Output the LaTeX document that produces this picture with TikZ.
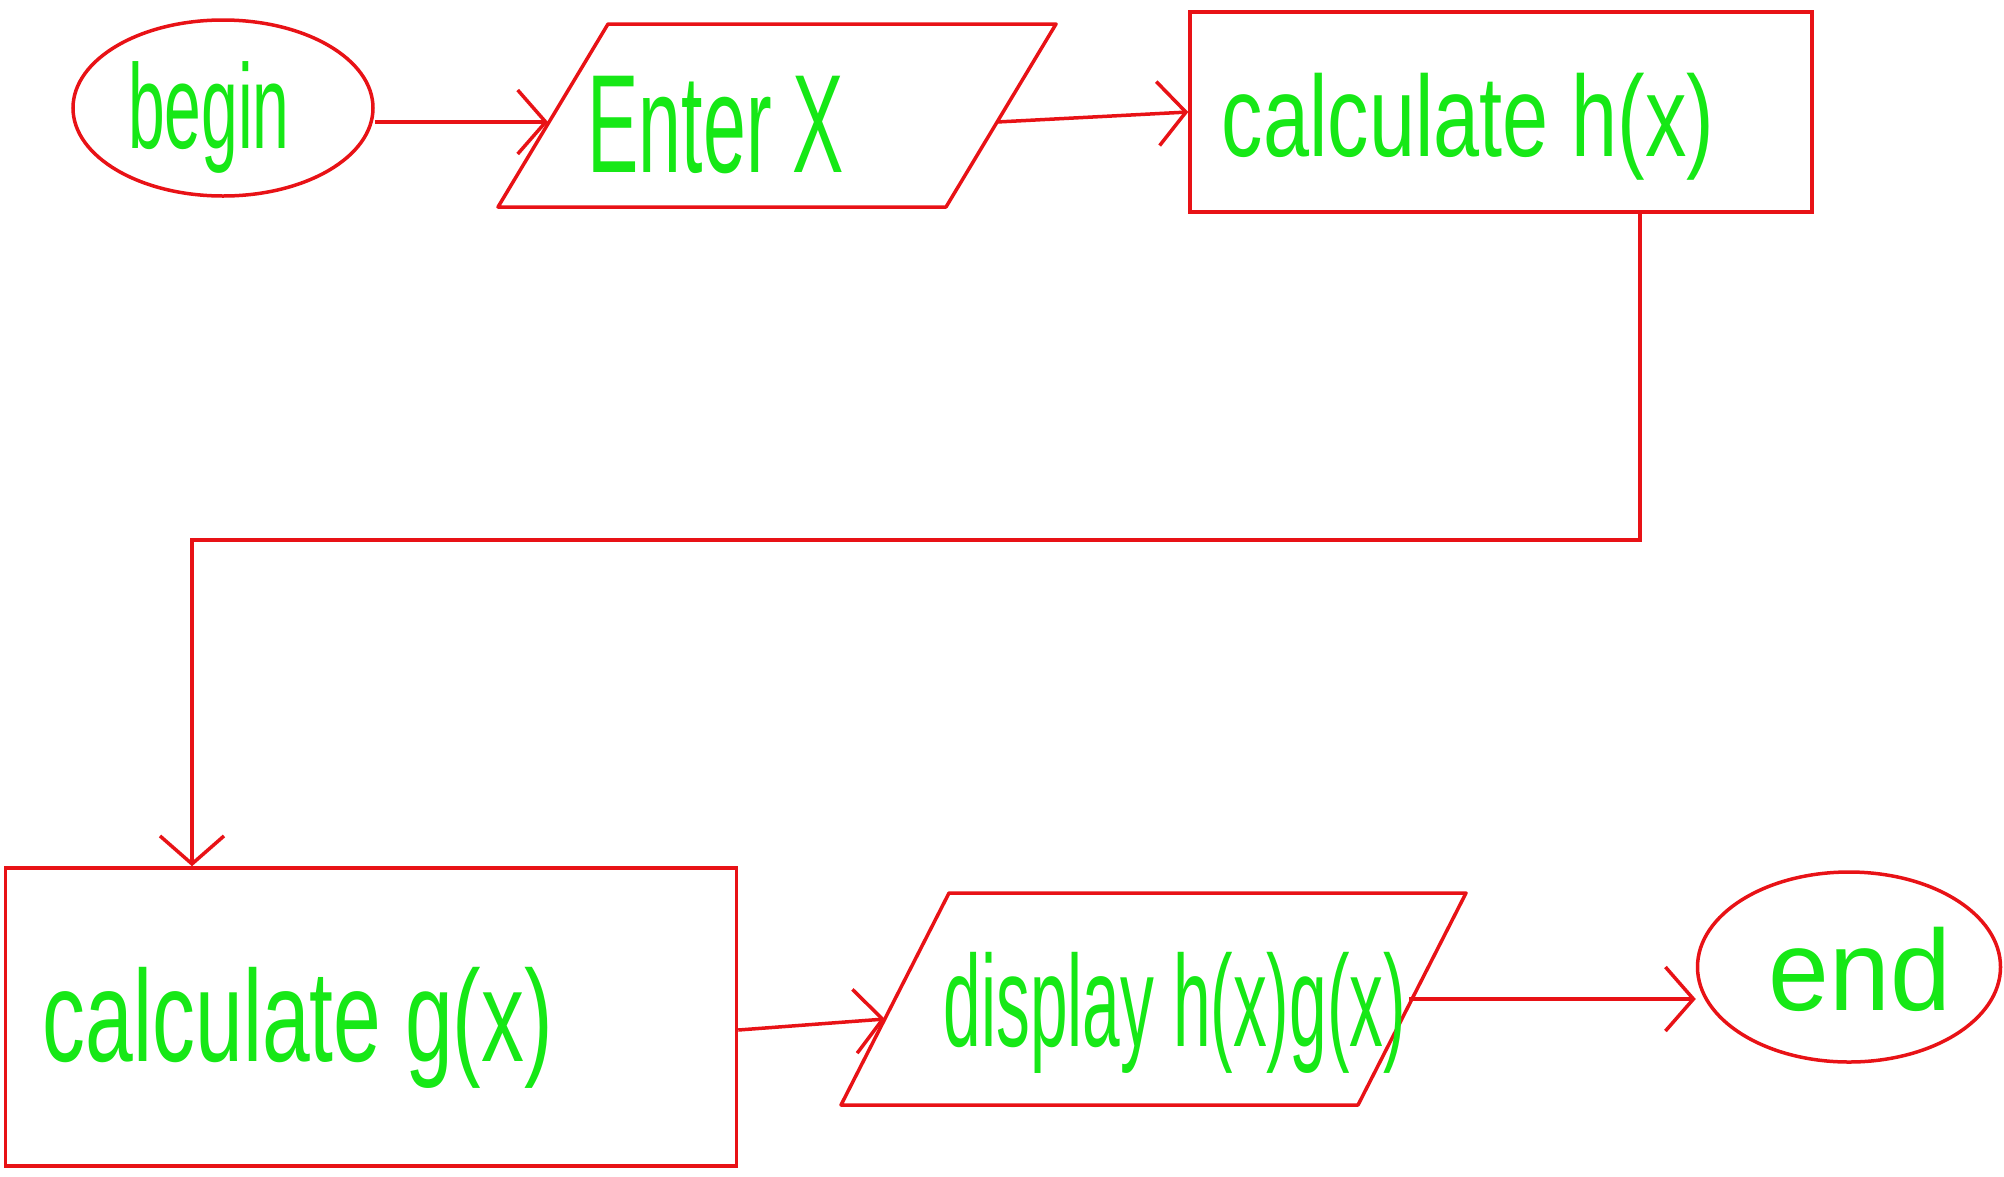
\documentclass[tikz,border=0pt]{standalone}
\usepackage{fontspec}
\setmainfont{Liberation Sans}
\usetikzlibrary{shapes.geometric,arrows.meta}
\definecolor{pen}{RGB}{232,18,22}
\definecolor{ink}{RGB}{22,232,22}
\tikzset{
  shp/.style={draw=pen, line width=3.5pt, inner sep=0pt},
  term/.style={shp, ellipse},
  proc/.style={shp, rectangle},
  iopath/.style={draw=pen, line width=3.5pt, line join=round},
  conn/.style={draw=pen, line width=3.5pt, -{Straight Barb[length=28pt,width=64pt,line width=3.5pt]}},
  lbl/.style={text=ink, inner sep=0pt, anchor=base}
}
\newcommand{\hw}[3]{\scalebox{#1}[1]{\fontsize{#2}{#2}\selectfont #3}}
\begin{document}
\begin{tikzpicture}[x=1pt,y=-1pt]
\useasboundingbox (0,0) rectangle (2004,1176);
% shapes
\node[term, minimum width=300pt, minimum height=176pt] (begin) at (223,108) {};
% Enter X parallelogram
\coordinate (enterBL) at (498,207);
\coordinate (enterBR) at (946,207);
\coordinate (enterTR) at (1056,24);
\coordinate (enterTL) at (608,24);
\draw[iopath] (enterBL) -- (enterBR) -- (enterTR) -- (enterTL) -- cycle;
\node[proc, minimum width=622pt, minimum height=200pt] (h) at (1501,112) {};
\node[proc, minimum width=731pt, minimum height=298pt] (g) at (371,1017) {};
% display parallelogram
\coordinate (dispBL) at (841,1105);
\coordinate (dispBR) at (1358,1105);
\coordinate (dispTR) at (1466,893);
\coordinate (dispTL) at (949,893);
\draw[iopath] (dispBL) -- (dispBR) -- (dispTR) -- (dispTL) -- cycle;
\node[term, minimum width=303pt, minimum height=190pt] (end) at (1849,967) {};
% labels
\node[lbl] (tbegin) at (209,148) {\hw{0.55}{120}{begin}};
\node[lbl] (tenter) at (716,172) {\hw{0.55}{140}{Enter X}};
\node[lbl] (th) at (1468,156) {\hw{0.72}{115}{calculate h(x)}};
\node[lbl] (tg) at (298,1061) {\hw{0.66}{130}{calculate g(x)}};
\node[lbl] (tdisp) at (1175,1046) {\hw{0.52}{130}{display h(x)g(x)}};
\node[lbl] (tend) at (1860,1010) {\hw{0.95}{115}{end}};
% connection points
\coordinate (enterW) at (548,122);
\coordinate (enterE) at (997,122);
\coordinate (dispW) at (885,1019);
\coordinate (dispE) at (1409,999);
\coordinate (b1) at (1640,540);
\coordinate (b2) at (192,540);
% connectors
\draw[conn] (begin.east |- enterW) -- (enterW);
\draw[conn] (enterE) -- (h.west);
\draw[conn] (h.south -| b1) -- (b1) -- (b2) -- (g.north -| b2);
\draw[conn] ([yshift=-13pt]g.east) -- (dispW);
\draw[conn] (dispE) -- (end.west |- dispE);
\end{tikzpicture}
\end{document}
